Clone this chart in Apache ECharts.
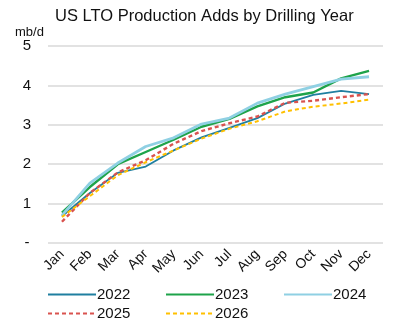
<!DOCTYPE html>
<html>
<head>
<meta charset="utf-8">
<script src="https://cdn.jsdelivr.net/npm/echarts@6/dist/echarts.min.js"></script>
<style>
  html, body { margin: 0; padding: 0; background: #fff; }
  #chart { width: 408px; height: 326px; }
</style>
</head>
<body>
<div id="chart"></div>
<script>
// Months of drilling
const months = ['Jan', 'Feb', 'Mar', 'Apr', 'May', 'Jun', 'Jul', 'Aug', 'Sep', 'Oct', 'Nov', 'Dec'];

// Cumulative production adds, mb/d
const y2022 = [0.68, 1.27, 1.78, 1.94, 2.35, 2.68, 2.92, 3.17, 3.54, 3.76, 3.86, 3.78];
const y2023 = [0.77, 1.42, 2.00, 2.31, 2.62, 2.95, 3.15, 3.47, 3.70, 3.82, 4.18, 4.37];
const y2024 = [0.70, 1.52, 2.03, 2.45, 2.67, 3.02, 3.17, 3.55, 3.78, 3.97, 4.16, 4.22];
const y2025 = [0.54, 1.27, 1.79, 2.10, 2.52, 2.84, 3.04, 3.21, 3.56, 3.61, 3.70, 3.78];
const y2026 = [0.66, 1.19, 1.72, 2.05, 2.35, 2.65, 2.90, 3.09, 3.34, 3.46, 3.54, 3.64];

// Y-axis tick labels (zero shown as a dash)
const yTickLabels = ['-', '1', '2', '3', '4', '5'];

const FONT = 'Liberation Sans, Arial, sans-serif';

function lineSeries(name, data, color, width, dashed) {
  return {
    name: name,
    type: 'line',
    data: data,
    symbol: 'none',
    smooth: false,
    lineStyle: { color: color, width: width, type: dashed ? [4, 3] : 'solid' },
    itemStyle: { color: color }
  };
}

// Legend shows only the line sample, no marker
const legendBase = {
  orient: 'vertical',
  itemWidth: 48,
  itemHeight: 10,
  itemGap: 4,
  itemStyle: { opacity: 0 },
  textStyle: { fontFamily: FONT, fontSize: 15, color: '#111', padding: [0, 0, 0, -4] },
  padding: 0
};

const chart = echarts.init(document.getElementById('chart'), null, { renderer: 'canvas' });
chart.setOption({
  backgroundColor: '#fff',
  animation: false,
  title: [
    {
      text: 'US LTO Production Adds by Drilling Year',
      left: 50, top: 3,
      textStyle: { fontFamily: FONT, fontSize: 16.5, fontWeight: 'normal', color: '#111' }
    },
    {
      text: 'mb/d',
      left: 10, top: 21,
      textStyle: { fontFamily: FONT, fontSize: 13, fontWeight: 'normal', color: '#111' }
    }
  ],
  legend: [
    Object.assign({}, legendBase, { left: 47, top: 287, data: ['2022', '2025'] }),
    Object.assign({}, legendBase, { left: 165, top: 287, data: ['2023', '2026'] }),
    Object.assign({}, legendBase, { left: 283, top: 287, data: ['2024'] })
  ],
  grid: { left: 48, right: 25, top: 46, bottom: 83, containLabel: false },
  xAxis: {
    type: 'category',
    data: months,
    boundaryGap: true,
    axisLine: { show: false },
    axisTick: { show: false },
    axisLabel: {
      rotate: 45,
      interval: 0,
      margin: 9,
      fontFamily: FONT,
      fontSize: 14,
      color: '#111'
    }
  },
  yAxis: {
    type: 'value',
    min: 0, max: 5, interval: 1,
    axisLine: { show: false },
    axisTick: { show: false },
    splitLine: { lineStyle: { color: '#d9d9d9', width: 1.5 } },
    axisLabel: {
      margin: 21,
      fontFamily: FONT,
      fontSize: 15,
      color: '#111',
      align: 'center',
      formatter: function (v) { return yTickLabels[Math.round(v)]; }
    }
  },
  series: [
    lineSeries('2022', y2022, '#1f7fa0', 1.8, false),
    lineSeries('2023', y2023, '#1ea34a', 2.4, false),
    lineSeries('2024', y2024, '#8fd0e3', 2.8, false),
    lineSeries('2025', y2025, '#d9534f', 2.4, true),
    lineSeries('2026', y2026, '#ffc000', 2, true)
  ]
});
</script>
</body>
</html>
